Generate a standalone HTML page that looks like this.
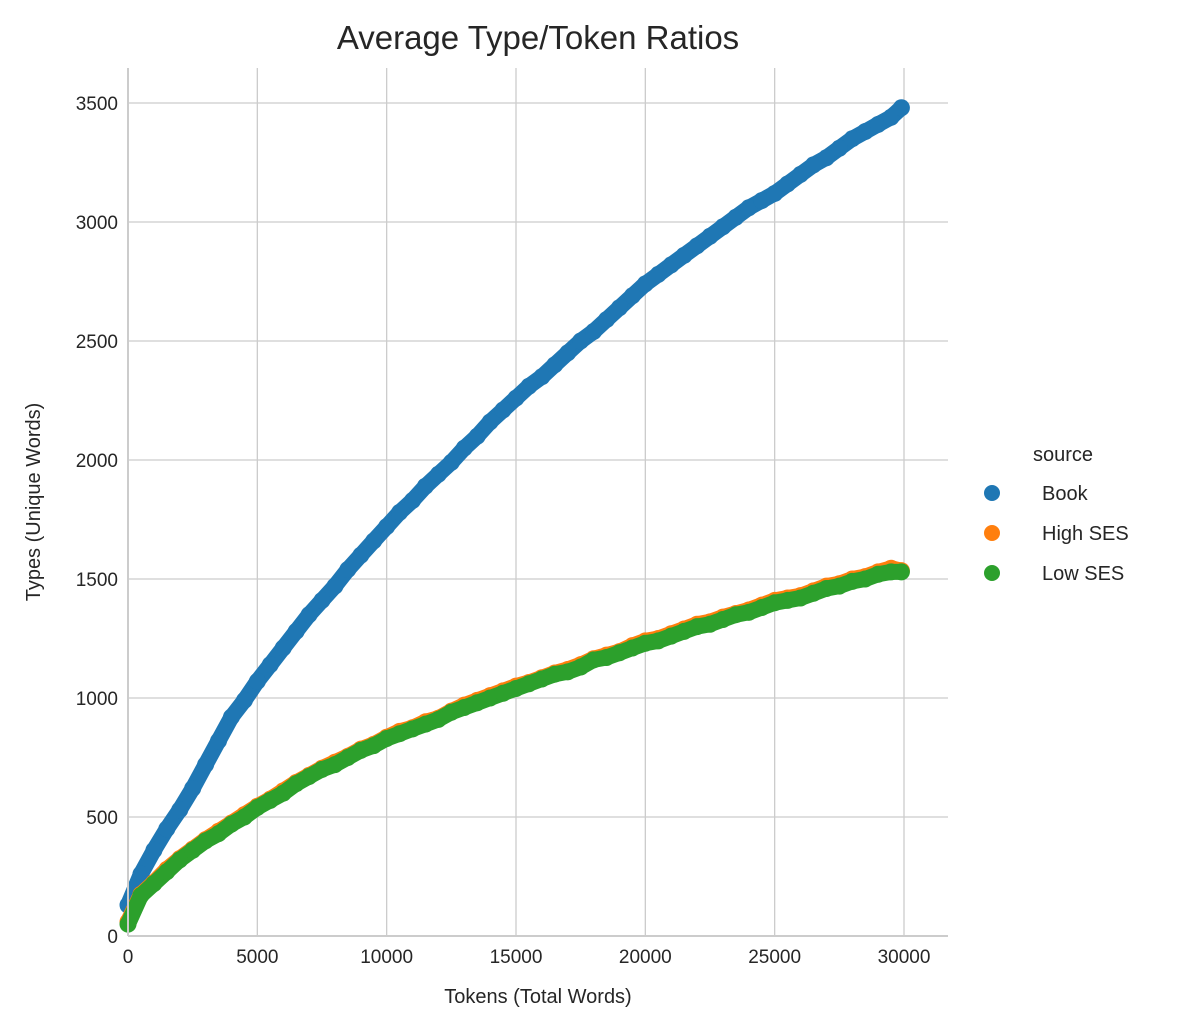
<!DOCTYPE html>
<html><head><meta charset="utf-8"><style>
body{margin:0;background:#fff;}
svg text{font-family:"Liberation Sans",Arial,sans-serif;fill:#262626;}
</style></head><body>
<svg id="chart" width="1187" height="1029" xmlns="http://www.w3.org/2000/svg">
<text x="538" y="49" font-size="33" text-anchor="middle">Average Type/Token Ratios</text>
<g id="grid"></g><g id="marks"></g><g id="axes"></g>
<text x="538" y="1003" font-size="20" text-anchor="middle">Tokens (Total Words)</text>
<text transform="translate(40,502) rotate(-90)" font-size="20" text-anchor="middle">Types (Unique Words)</text>
<g>
<text x="1063" y="461" font-size="20" text-anchor="middle">source</text>
<circle cx="992" cy="493" r="8" fill="#1f77b4"/>
<text x="1042" y="500" font-size="20">Book</text>
<circle cx="992" cy="533" r="8" fill="#ff7f0e"/>
<text x="1042" y="540" font-size="20">High SES</text>
<circle cx="992" cy="573" r="8" fill="#2ca02c"/>
<text x="1042" y="580" font-size="20">Low SES</text>
</g>
</svg>
<script>
const tokens=[0,500,1000,1500,2000,2500,3000,3500,4000,4500,5000,5500,6000,6500,7000,7500,8000,8500,9000,9500,10000,10500,11000,11500,12000,12500,13000,13500,14000,14500,15000,15500,16000,16500,17000,17500,18000,18500,19000,19500,20000,20500,21000,21500,22000,22500,23000,23500,24000,24500,25000,25500,26000,26500,27000,27500,28000,28500,29000,29500,29900];
const bookTypes=[130,260,360,450,530,620,720,820,920,990,1070,1140,1210,1280,1350,1410,1470,1540,1600,1660,1720,1780,1830,1890,1940,1990,2050,2100,2160,2210,2260,2310,2350,2400,2450,2500,2540,2590,2640,2690,2740,2780,2820,2860,2900,2940,2980,3020,3060,3090,3120,3160,3200,3240,3270,3310,3350,3380,3410,3440,3480];
const highTypes=[60,175,225,280,325,365,405,440,475,510,545,575,610,645,675,705,730,755,785,805,835,860,875,900,915,945,970,990,1010,1030,1050,1065,1085,1105,1120,1140,1165,1180,1195,1220,1240,1250,1270,1290,1310,1320,1340,1355,1370,1390,1410,1420,1430,1450,1470,1480,1500,1510,1530,1545,1535];
const lowTypes=[50,170,220,270,320,360,400,430,470,500,540,570,600,640,670,700,720,750,780,800,830,850,870,890,910,940,960,980,1000,1020,1040,1060,1080,1100,1110,1130,1160,1170,1190,1210,1230,1240,1260,1280,1300,1310,1330,1350,1360,1380,1400,1410,1420,1440,1460,1470,1490,1500,1520,1530,1530];
const xTicks=[0,5000,10000,15000,20000,25000,30000];
const yTicks=[0,500,1000,1500,2000,2500,3000,3500];
const NS="http://www.w3.org/2000/svg";
const X0=128,X1=948,Y0=936,YT=68;
function sx(v){return 128+v*(776/30000);}
function sy(v){return 936-v*(833/3500);}
function mk(tag,attrs,parent){const e=document.createElementNS(NS,tag);for(const k in attrs)e.setAttribute(k,attrs[k]);parent.appendChild(e);return e;}
const grid=document.getElementById('grid'),axes=document.getElementById('axes'),marks=document.getElementById('marks');
xTicks.forEach(t=>{
 const l=mk('line',{x1:sx(t),x2:sx(t),y1:YT,y2:Y0,stroke:'#cccccc','stroke-width':1.3},grid);
 
 
 const tx=mk('text',{x:sx(t),y:963,'font-size':19,'text-anchor':'middle'},axes);tx.textContent=t;
 
 
});
yTicks.forEach(t=>{
 const l=mk('line',{x1:X0,x2:X1,y1:sy(t),y2:sy(t),stroke:'#cccccc','stroke-width':1.3},grid);
 
 
 const tx=mk('text',{x:118,y:sy(t)+7,'font-size':19,'text-anchor':'end'},axes);tx.textContent=t;
 
 
});
const ls=mk('line',{x1:X0,x2:X0,y1:YT,y2:Y0,stroke:'#cccccc','stroke-width':2},axes);


const bs=mk('line',{x1:X0,x2:X1,y1:Y0,y2:Y0,stroke:'#cccccc','stroke-width':2},axes);


function series(vals,color,name){
 const d=vals.map((v,i)=>(i?'L':'M')+sx(tokens[i]).toFixed(1)+','+sy(v).toFixed(1)).join('');
 const p=mk('path',{d:d,fill:'none',stroke:color,'stroke-width':16,'stroke-linecap':'round','stroke-linejoin':'round'},marks);
 
 
 vals.forEach((v,i)=>{
  const c=mk('circle',{cx:sx(tokens[i]),cy:sy(v),r:8.5,fill:color},marks);
  
  
 });
}
series(bookTypes,'#1f77b4','book');
series(highTypes,'#ff7f0e','high-ses');
series(lowTypes,'#2ca02c','low-ses');
</script>
</body></html>
